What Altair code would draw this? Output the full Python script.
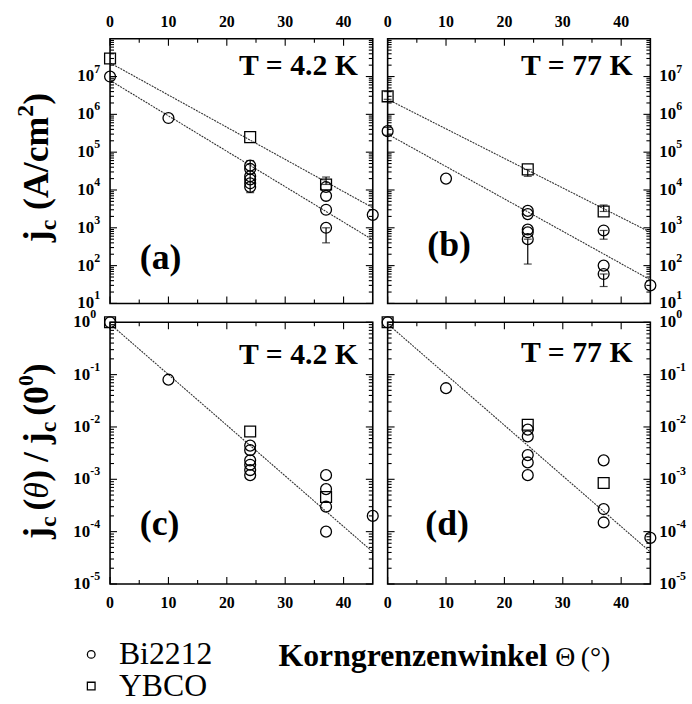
import altair as alt
import pandas as pd

SERIF = "Liberation Serif"
W = 265          # plot width of every panel
H_TOP = 267      # absolute j_c panels (10^1 .. 10^8)
H_BOT = 264      # normalised panels (10^-5 .. 10^0)

# ---------------- measured values ----------------
FIT_THETA = [0, 45]

# (a) 4.2 K, j_c in A/cm^2
a_bi_theta = [0, 10, 24, 24, 24, 24, 24, 24, 37, 37, 37, 37, 45]
a_bi_jc = [1.0e7, 8.0e5, 4.4e4, 3.6e4, 2.3e4, 1.9e4, 1.5e4, 1.2e4, 1.2e4, 7.0e3, 3.0e3, 1.0e3, 2.2e3]
a_yb_theta = [0, 24, 37]
a_yb_jc = [3.0e7, 2.5e5, 1.4e4]
a_err_theta = [24, 37, 37]
a_err_lo = [8.5e3, 4.0e2, 1.4e4]
a_err_hi = [6.0e4, 1.0e3, 2.2e4]
a_fit_bi = [7.9e6, 4.8e2]
a_fit_yb = [2.3e7, 3.4e3]

# (b) 77 K, j_c in A/cm^2
b_bi_theta = [0, 10, 24, 24, 24, 24, 24, 37, 37, 37, 45]
b_bi_jc = [3.6e5, 2.0e4, 2.8e3, 2.3e3, 9.0e2, 7.6e2, 5.0e2, 8.5e2, 1.0e2, 6.0e1, 3.0e1]
b_yb_theta = [0, 24, 37]
b_yb_jc = [3.0e6, 3.5e4, 2.7e3]
b_err_theta = [0, 0, 24, 24, 37, 37, 37]
b_err_lo = [2.5e6, 2.8e5, 2.3e4, 1.1e2, 2.7e3, 5.0e2, 2.8e1]
b_err_hi = [4.0e6, 4.5e5, 3.5e4, 5.0e2, 4.0e3, 8.5e2, 6.0e1]
b_fit_bi = [3.0e5, 4.2e1]
b_fit_yb = [2.5e6, 7.6e2]

# (c) 4.2 K, j_c(theta) / j_c(0)
c_bi_theta = [0, 10, 24, 24, 24, 24, 24, 24, 37, 37, 37, 37, 45]
c_bi_ratio = [1.0, 8.0e-2, 4.4e-3, 3.6e-3, 2.3e-3, 1.9e-3, 1.5e-3, 1.2e-3, 1.2e-3, 6.5e-4, 3.0e-4, 1.0e-4, 2.0e-4]
c_yb_theta = [0, 24, 37]
c_yb_ratio = [1.0, 8.2e-3, 4.6e-4]
c_fit = [0.93, 4.1e-5]

# (d) 77 K, j_c(theta) / j_c(0)
d_bi_theta = [0, 10, 24, 24, 24, 24, 24, 37, 37, 37, 45]
d_bi_ratio = [1.0, 5.5e-2, 8.9e-3, 6.6e-3, 2.9e-3, 2.1e-3, 1.2e-3, 2.3e-3, 2.7e-4, 1.5e-4, 7.6e-5]
d_yb_theta = [0, 24, 37]
d_yb_ratio = [1.0, 1.1e-2, 8.5e-4]
d_fit = [0.93, 4.1e-5]

MATERIALS = ["Bi2212", "YBCO"]
X_MAJOR = [0, 10, 20, 30, 40]
X_LABELS = ["0", "10", "20", "30", "40"]
X_MINOR = [5, 15, 25, 35]
TOP_DECADES = [1e1, 1e2, 1e3, 1e4, 1e5, 1e6, 1e7]
TOP_EXPS = ["1", "2", "3", "4", "5", "6", "7"]
BOT_DECADES = [1e-5, 1e-4, 1e-3, 1e-2, 1e-1, 1e0]
BOT_EXPS = ["-5", "-4", "-3", "-2", "-1", "0"]


def minor_ticks(lo_exp, hi_exp):
    return [k * 10.0 ** n for n in range(lo_exp, hi_exp) for k in range(2, 10)]


# Times / Liberation Serif advance widths (1/1000 em) for the rotated titles
ADV = {"j": 333, "c": 444, "(": 333, ")": 333, "A": 722, "/": 278,
       "m": 833, "2": 500, "0": 500, "θ": 500}


def adv(s, size):
    return sum(ADV.get(ch, 500) for ch in s) * size / 1000.0


def text_layer(text, x, y, size, weight="bold", align="left", angle=0, dy=0, style="normal"):
    return alt.Chart(pd.DataFrame({"t": [text]})).mark_text(
        font=SERIF, fontSize=size, fontWeight=weight, fontStyle=style,
        align=align, baseline="alphabetic", angle=angle, dy=dy, color="black",
    ).encode(x=alt.value(x), y=alt.value(y), text="t:N")


def rotated_title(pieces, x_base, y_center):
    """pieces: (text, size, weight, style, shift, gap_before); text runs bottom to top."""
    total = sum(adv(t, s) + g for t, s, _, _, _, g in pieces)
    y = y_center + total / 2
    out = []
    for t, s, w, st, shift, g in pieces:
        y -= g
        out.append(text_layer(t, x_base, y, s, weight=w, angle=270, dy=shift, style=st))
        y -= adv(t, s)
    return out


def panel(bi_theta, bi_val, yb_theta, yb_val, fits_in, err, dom, h,
          decades, exps, minors, side, x_orient, temp, tag, temp_xy, tag_xy,
          ten_x, exp_x, extra):
    xs = alt.Scale(domain=[0, 45], nice=False, zero=False)
    ys = alt.Scale(type="log", domain=dom, nice=False)

    def X(field="theta"):
        return alt.X(f"{field}:Q", scale=xs, axis=None)

    def Y(field="val"):
        return alt.Y(f"{field}:Q", scale=ys, axis=None)

    layers = []
    # inward ticks on all four edges
    for vals, L in ((decades, 7), (minors, 4)):
        base = alt.Chart(pd.DataFrame({"val": vals})).mark_rule(color="black", strokeWidth=1.1)
        layers.append(base.encode(y=Y(), x=alt.value(0), x2=alt.value(L)))
        layers.append(base.encode(y=Y(), x=alt.value(W), x2=alt.value(W - L)))
    for vals, L in ((X_MAJOR, 7), (X_MINOR, 4)):
        base = alt.Chart(pd.DataFrame({"theta": vals})).mark_rule(color="black", strokeWidth=1.1)
        layers.append(base.encode(x=X(), y=alt.value(0), y2=alt.value(L)))
        layers.append(base.encode(x=X(), y=alt.value(h), y2=alt.value(h - L)))

    # tick labels: theta values, and decades written as 10 with a raised exponent
    lab_y = -17 if x_orient == "top" else h + 19
    layers.append(alt.Chart(pd.DataFrame({"theta": X_MAJOR, "lab": X_LABELS})).mark_text(
        font=SERIF, fontSize=16, fontWeight="bold", align="center", baseline="middle",
        color="black").encode(x=X(), y=alt.value(lab_y), text="lab:N"))
    ddf = pd.DataFrame({"val": decades, "e": exps, "ten": ["10"] * len(decades)})
    layers.append(alt.Chart(ddf).mark_text(
        font=SERIF, fontSize=17, fontWeight="bold", baseline="middle",
        align="right" if side == "left" else "left", color="black").encode(
        y=Y(), x=alt.value(ten_x), text="ten:N"))
    layers.append(alt.Chart(ddf).mark_text(
        font=SERIF, fontSize=12, fontWeight="bold", align="left", baseline="middle",
        dy=-8, color="black").encode(y=Y(), x=alt.value(exp_x), text="e:N"))

    # fitted exponential decays
    fits = [pd.DataFrame({"theta": FIT_THETA, "val": vals, "series": name}) for name, vals in fits_in]
    layers.append(alt.Chart(pd.concat(fits)).mark_line(
        color="#333333", strokeWidth=1.1, strokeDash=[2, 1], clip=False).encode(
        x=X(), y=Y(), detail="series:N"))

    # error bars with caps
    if err is not None:
        e_theta, e_lo, e_hi = err
        edf = pd.DataFrame({"theta": e_theta, "lo": e_lo, "hi": e_hi})
        layers.append(alt.Chart(edf).mark_rule(color="black", strokeWidth=1.2).encode(
            x=X(), y=Y("lo"), y2="hi:Q"))
        cdf = pd.DataFrame({"theta": list(e_theta) * 2, "val": list(e_lo) + list(e_hi)})
        layers.append(alt.Chart(cdf).mark_tick(
            orient="horizontal", size=8, thickness=1.2, color="black").encode(x=X(), y=Y()))

    # data points
    pdf = pd.concat([
        pd.DataFrame({"theta": bi_theta, "val": bi_val, "material": "Bi2212"}),
        pd.DataFrame({"theta": yb_theta, "val": yb_val, "material": "YBCO"}),
    ])
    legend = alt.Legend(title=None, orient="none", legendX=-35, legendY=605,
                        labelFont=SERIF, labelFontSize=32, labelColor="black",
                        labelOffset=12, symbolSize=60, symbolStrokeWidth=1.3,
                        symbolStrokeColor="black", symbolFillColor="white",
                        rowPadding=0, labelLimit=300)
    layers.append(alt.Chart(pdf).mark_point(
        filled=False, color="black", strokeWidth=1.3, size=120, opacity=1, clip=False).encode(
        x=X(), y=Y(),
        shape=alt.Shape("material:N", scale=alt.Scale(domain=MATERIALS, range=["circle", "square"]),
                        legend=legend)))

    layers.append(text_layer(temp, temp_xy[0], temp_xy[1], 30, align="right"))
    layers.append(text_layer(tag, tag_xy[0], tag_xy[1], 36))
    layers.extend(extra)
    return alt.layer(*layers).properties(width=W, height=h)


# axis titles, pieced together so that c can be lowered and 2 / 0 raised
title_top = rotated_title([
    ("j", 36, "bold", "normal", 0, 0),
    ("c", 24, "bold", "normal", 8, 0),
    ("(A/cm", 36, "bold", "normal", 0, 10),
    ("2", 24, "bold", "normal", -15, 0),
    (")", 36, "bold", "normal", 0, 0),
], -63, 130)

title_bot = rotated_title([
    ("j", 36, "bold", "normal", 0, 0),
    ("c", 24, "bold", "normal", 8, 0),
    ("(", 36, "bold", "normal", 0, 6),
    ("θ", 34, "normal", "italic", 0, 0),
    (")", 36, "bold", "normal", 0, 0),
    ("/", 36, "bold", "normal", 0, 8),
    ("j", 36, "bold", "normal", 0, 8),
    ("c", 24, "bold", "normal", 8, 0),
    ("(0", 36, "bold", "normal", 0, 6),
    ("0", 22, "bold", "normal", -15, 0),
    (")", 36, "bold", "normal", 0, 0),
], -63, 130)

x_title = [
    text_layer("Korngrenzenwinkel", 170, 347, 32),
    text_layer("Θ\u2009(°)", 449, 347, 28, weight="normal"),
]

top_minor = minor_ticks(1, 8)
bot_minor = minor_ticks(-5, 0)

pa = panel(a_bi_theta, a_bi_jc, a_yb_theta, a_yb_jc,
           [("bi", a_fit_bi), ("yb", a_fit_yb)], (a_err_theta, a_err_lo, a_err_hi),
           [1e1, 1e8], H_TOP, TOP_DECADES, TOP_EXPS, top_minor, "left", "top",
           "T = 4.2 K", "(a)", (250, 37), (30, 232), -16, -16, title_top)
pb = panel(b_bi_theta, b_bi_jc, b_yb_theta, b_yb_jc,
           [("bi", b_fit_bi), ("yb", b_fit_yb)], (b_err_theta, b_err_lo, b_err_hi),
           [1e1, 1e8], H_TOP, TOP_DECADES, TOP_EXPS, top_minor, "right", "top",
           "T = 77 K", "(b)", (247, 37), (40, 219), W + 9, W + 26, [])
pc = panel(c_bi_theta, c_bi_ratio, c_yb_theta, c_yb_ratio,
           [("fit", c_fit)], None,
           [1e-5, 1e0], H_BOT, BOT_DECADES, BOT_EXPS, bot_minor, "left", "bottom",
           "T = 4.2 K", "(c)", (250, 42), (30, 215), -20, -20, title_bot + x_title)
pd_ = panel(d_bi_theta, d_bi_ratio, d_yb_theta, d_yb_ratio,
            [("fit", d_fit)], None,
            [1e-5, 1e0], H_BOT, BOT_DECADES, BOT_EXPS, bot_minor, "right", "bottom",
            "T = 77 K", "(d)", (247, 40), (38, 215), W + 9, W + 26, [])

chart = alt.concat(
    pa, pb, pc, pd_, columns=2, bounds="flush",
    spacing=alt.RowColnumber(row=19, column=15),
).properties(
    padding={"left": 13, "top": 10, "right": 5, "bottom": 0},
    background="white",
).configure_view(
    stroke="black", strokeWidth=1.6,
)

chart.save("out.html", embed_options={"renderer": "svg", "actions": False})
